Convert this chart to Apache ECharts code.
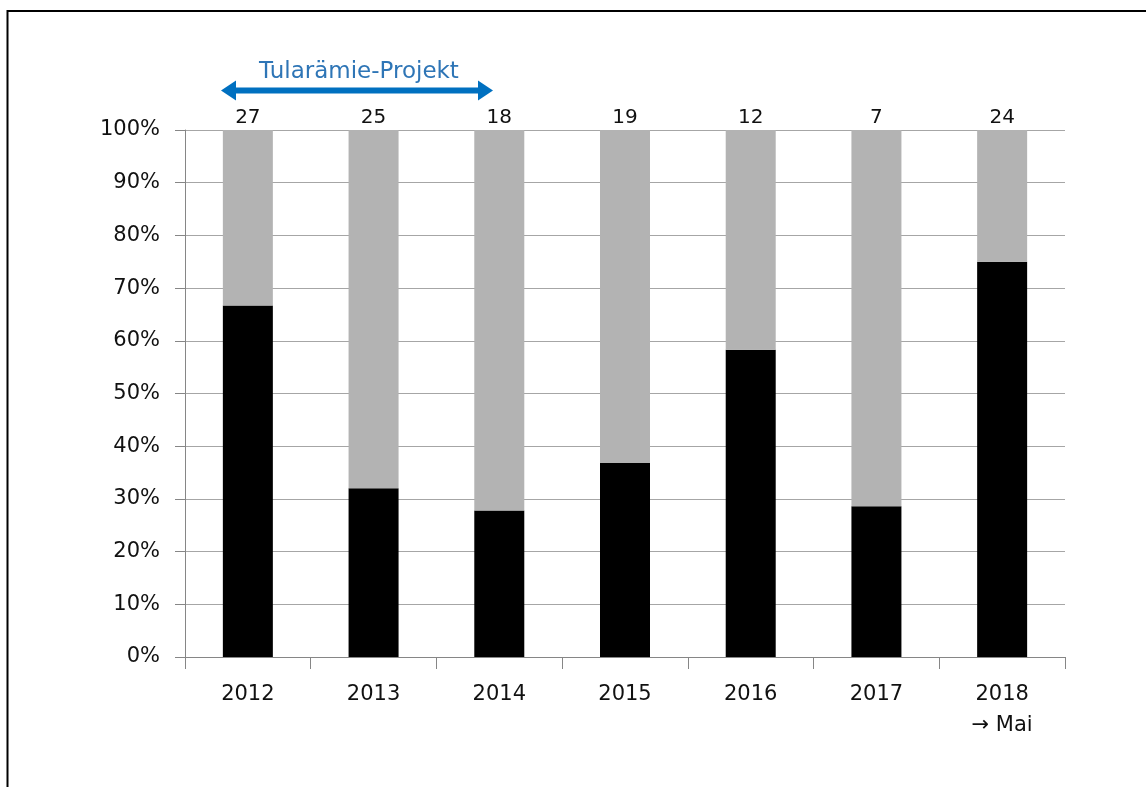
<!DOCTYPE html>
<html>
<head>
<meta charset="utf-8">
<script src="https://cdn.jsdelivr.net/npm/echarts@6/dist/echarts.min.js"></script>
<style>
html,body{margin:0;padding:0;background:#fff;}
#chart{width:1146px;height:787px;}
</style>
</head>
<body>
<div id="chart"></div>
<script>
var categories = ['2012', '2013', '2014', '2015', '2016', '2017', '2018\n→ Mai'];
var blackShare = [66.7, 32.0, 27.8, 36.8, 58.3, 28.6, 75.0];
var greyShare = [33.3, 68.0, 72.2, 63.2, 41.7, 71.4, 25.0];
var totals = [27, 25, 18, 19, 12, 7, 24];
var yTicks = { min: 0, max: 100, interval: 10 };
var annotationText = 'Tularämie-Projekt';

var FONT = 'DejaVu Sans';
var chart = echarts.init(document.getElementById('chart'), null, { renderer: 'canvas' });

var option = {
  backgroundColor: '#ffffff',
  animation: false,
  textStyle: { fontFamily: FONT },
  grid: { left: 185, right: 81, top: 130, bottom: 130, containLabel: false },
  xAxis: {
    type: 'category',
    data: categories,
    axisLine: { lineStyle: { color: '#868686', width: 1 } },
    axisTick: { show: true, length: 12, lineStyle: { color: '#868686' } },
    axisLabel: { color: '#111111', fontSize: 21, fontFamily: FONT, margin: 22, lineHeight: 31 }
  },
  yAxis: {
    type: 'value',
    min: yTicks.min, max: yTicks.max, interval: yTicks.interval,
    axisLine: { show: true, lineStyle: { color: '#868686', width: 1 } },
    axisTick: { show: true, length: 10, lineStyle: { color: '#868686' } },
    splitLine: { show: true, lineStyle: { color: '#a6a6a6', width: 1 } },
    axisLabel: { color: '#111111', fontSize: 21, fontFamily: FONT, margin: 25, formatter: '{value}%' }
  },
  series: [
    {
      name: 'black', type: 'bar', stack: 'a', barWidth: 50,
      data: blackShare,
      itemStyle: { color: '#000000' }
    },
    {
      name: 'grey', type: 'bar', stack: 'a', barWidth: 50,
      data: greyShare,
      itemStyle: { color: '#b3b3b3' },
      label: {
        show: true, position: 'top', distance: 2,
        color: '#111111', fontSize: 20, fontFamily: FONT,
        formatter: function (p) { return String(totals[p.dataIndex]); }
      }
    }
  ],
  graphic: [
    {
      type: 'polyline',
      shape: { points: [[7.5, 787], [7.5, 11], [1146, 11]] },
      style: { stroke: '#000', lineWidth: 2, fill: null }
    },
    {
      type: 'line',
      shape: { x1: 232, y1: 90.5, x2: 482, y2: 90.5 },
      style: { stroke: '#0070c0', lineWidth: 6 }
    },
    {
      type: 'polygon',
      shape: { points: [[221, 90.5], [236, 80.5], [236, 100.5]] },
      style: { fill: '#0070c0' }
    },
    {
      type: 'polygon',
      shape: { points: [[493, 90.5], [478, 80.5], [478, 100.5]] },
      style: { fill: '#0070c0' }
    },
    {
      type: 'text',
      x: 359, y: 72,
      style: {
        text: annotationText, fill: '#2e75b6', fontSize: 23, fontFamily: FONT,
        align: 'center', verticalAlign: 'middle'
      }
    }
  ]
};
chart.setOption(option);
</script>
</body>
</html>
